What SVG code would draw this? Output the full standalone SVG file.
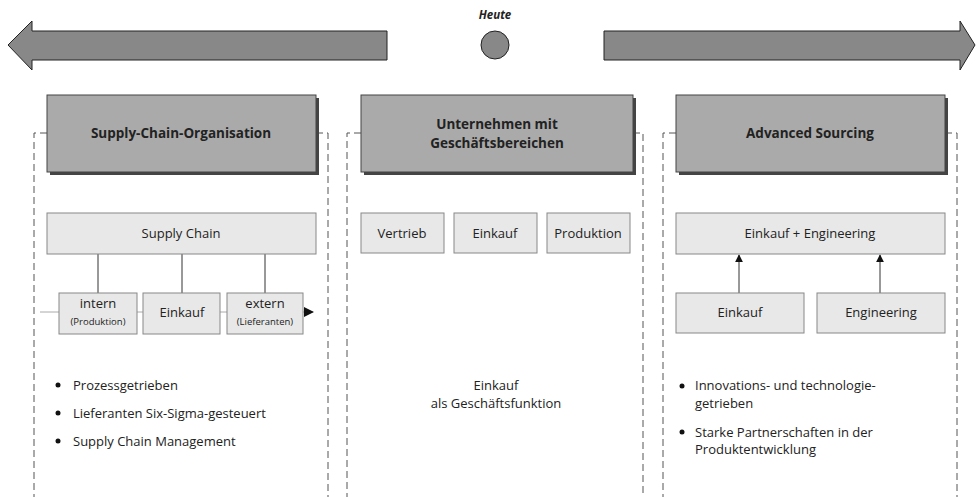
<svg xmlns="http://www.w3.org/2000/svg" width="977" height="497" viewBox="0 0 977 497">
<style>
text{font-family:"Open Sans","Liberation Sans","DejaVu Sans",sans-serif;fill:#222}
.t{font-size:13px}
.s{font-size:9.5px}
.h{font-size:13.5px;font-weight:bold}
.c{text-anchor:middle}
.big{fill:#888;stroke:#222;stroke-width:1}
.hdr{fill:#aaa;stroke:#444;stroke-width:1}
.shd{fill:#444}
.box{fill:#e8e8e8;stroke:#888;stroke-width:1}
.frame{fill:none;stroke:#555;stroke-width:1;stroke-dasharray:7 4}
.ln{stroke:#333;stroke-width:1;fill:none}
</style>
<defs>
<marker id="ah" viewBox="0 0 10 10" refX="9" refY="5" markerWidth="8" markerHeight="8" markerUnits="userSpaceOnUse" orient="auto"><path d="M0,0L10,5L0,10Z" fill="#111"/></marker>
</defs>

<g id="timeline">
<polygon class="big" points="8,45 32,21 32,31 387,31 387,60 32,60 32,70"/>
<polygon class="big" points="975,45 960,21 960,31 604,31 604,60 960,60 960,70"/>
<circle cx="495" cy="45" r="14" fill="#888" stroke="#222"/>
<text x="495" y="19" class="c" style="font-size:11.5px;font-weight:bold;font-style:italic">Heute</text>
</g>

<g id="frames">
<path class="frame" d="M47,133H34V497M316,133H328V497"/>
<path class="frame" d="M361,133H347V497M633,133H643V497" />
<path class="frame" d="M676,133H663V497M945,133H957V497"/>
</g>

<g id="header-sco">
<rect class="shd" x="50" y="98" width="269" height="77"/>
<rect class="hdr" x="47" y="95" width="269" height="77"/>
<text x="181" y="138" class="h c">Supply-Chain-Organisation</text>
</g>
<g id="header-ug">
<rect class="shd" x="364" y="98" width="272" height="77"/>
<rect class="hdr" x="361" y="95" width="272" height="77"/>
<text x="497" y="129" class="h c">Unternehmen mit</text>
<text x="497" y="148" class="h c">Geschäftsbereichen</text>
</g>
<g id="header-as">
<rect class="shd" x="679" y="98" width="269" height="77"/>
<rect class="hdr" x="676" y="95" width="269" height="77"/>
<text x="810" y="138" class="h c">Advanced Sourcing</text>
</g>

<g id="connectors">
<line x1="40" y1="312" x2="313" y2="312" stroke="#aaa" stroke-width="1"/>
<path d="M304,307L314,312L304,317Z" fill="#111"/>
<path class="ln" d="M98,254V293M182,254V293M265,254V293"/>
<line class="ln" x1="739" y1="293" x2="739" y2="255" marker-end="url(#ah)" stroke="#666"/>
<line class="ln" x1="880" y1="293" x2="880" y2="255" marker-end="url(#ah)"/>
</g>

<g id="supply-chain">
<rect class="box" x="47" y="213" width="269" height="41"/>
<text x="181" y="238" class="t c">Supply Chain</text>
</g>
<g id="intern">
<rect class="box" x="59" y="293" width="78" height="41"/>
<text x="98" y="308" class="t c">intern</text>
<text x="98" y="325" class="s c">(Produktion)</text>
</g>
<g id="einkauf-1">
<rect class="box" x="143" y="293" width="77" height="41"/>
<text x="182" y="317" class="t c">Einkauf</text>
</g>
<g id="extern">
<rect class="box" x="227" y="293" width="76" height="41"/>
<text x="265" y="308" class="t c">extern</text>
<text x="265" y="325" class="s c">(Lieferanten)</text>
</g>

<g id="vertrieb">
<rect class="box" x="361" y="213" width="83" height="40"/>
<text x="402" y="238" class="t c">Vertrieb</text>
</g>
<g id="einkauf-2">
<rect class="box" x="454" y="213" width="83" height="40"/>
<text x="495" y="238" class="t c">Einkauf</text>
</g>
<g id="produktion">
<rect class="box" x="547" y="213" width="83" height="40"/>
<text x="588" y="238" class="t c">Produktion</text>
</g>

<g id="einkauf-engineering">
<rect class="box" x="676" y="213" width="269" height="41"/>
<text x="810" y="238" class="t c">Einkauf + Engineering</text>
</g>
<g id="einkauf-3">
<rect class="box" x="676" y="293" width="128" height="40"/>
<text x="740" y="317" class="t c">Einkauf</text>
</g>
<g id="engineering">
<rect class="box" x="817" y="293" width="128" height="40"/>
<text x="881" y="317" class="t c">Engineering</text>
</g>

<g id="bullets-left">
<circle cx="58" cy="385" r="2.5" fill="#111"/>
<circle cx="58" cy="413" r="2.5" fill="#111"/>
<circle cx="58" cy="441" r="2.5" fill="#111"/>
<text x="73" y="390" class="t">Prozessgetrieben</text>
<text x="73" y="418" class="t">Lieferanten Six-Sigma-gesteuert</text>
<text x="73" y="446" class="t">Supply Chain Management</text>
</g>

<g id="text-middle">
<text x="496" y="390" class="t c">Einkauf</text>
<text x="496" y="408" class="t c">als Geschäftsfunktion</text>
</g>

<g id="bullets-right">
<circle cx="682" cy="386" r="2.5" fill="#111"/>
<circle cx="682" cy="432" r="2.5" fill="#111"/>
<text x="695" y="390" class="t">Innovations- und technologie-</text>
<text x="695" y="408" class="t">getrieben</text>
<text x="695" y="437" class="t">Starke Partnerschaften in der</text>
<text x="695" y="454" class="t">Produktentwicklung</text>
</g>
</svg>
